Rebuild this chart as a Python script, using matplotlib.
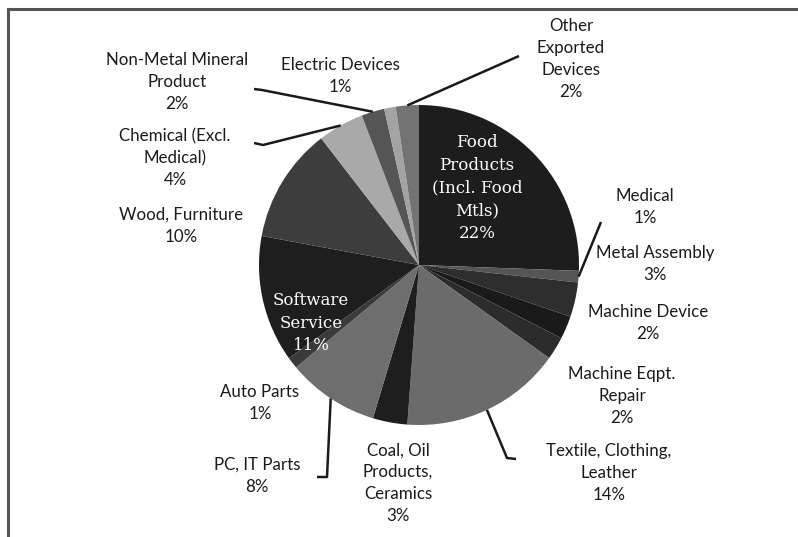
import matplotlib
matplotlib.use("Agg")
import matplotlib.pyplot as plt
import numpy as np

# shares by business type, clockwise from 12 o'clock
categories = [
    "Food Products (Incl. Food Mtls)", "Medical", "Metal Assembly",
    "Machine Device", "Machine Eqpt. Repair", "Textile, Clothing, Leather",
    "Coal, Oil Products, Ceramics", "PC, IT Parts", "Auto Parts",
    "Software Service", "Wood, Furniture", "Chemical (Excl. Medical)",
    "Non-Metal Mineral Product", "Electric Devices", "Other Exported Devices",
]
shares = [22, 1, 3, 2, 2, 14, 3, 8, 1, 11, 10, 4, 2, 1, 2]

# how each name is broken over lines in its label
label_names = [
    "Food\nProducts\n(Incl. Food\nMtls)", "Medical", "Metal Assembly",
    "Machine Device", "Machine Eqpt.\nRepair", "Textile, Clothing,\nLeather",
    "Coal, Oil\nProducts,\nCeramics", "PC, IT Parts", "Auto Parts",
    "Software\nService", "Wood, Furniture", "Chemical (Excl.\nMedical)",
    "Non-Metal Mineral\nProduct", "Electric Devices", "Other\nExported\nDevices",
]

colors = ["#1d1d1d", "#555555", "#2e2e2e", "#1a1a1a", "#2c2c2c", "#6b6b6b",
          "#1e1e1e", "#6e6e6e", "#3a3a3a", "#1e1e1e", "#3d3d3d", "#a9a9a9",
          "#555555", "#a3a3a3", "#737373"]

W, H = 798, 537
CX, CY, R = 419, 265, 160

# label centres in pixels measured from the top-left corner
label_xy = {
    0: (477, 188), 1: (645, 207), 2: (655, 264), 3: (648, 323), 4: (622, 396),
    5: (609, 473), 6: (398, 483), 7: (257, 476), 8: (260, 403), 9: (311, 323),
    10: (181, 226), 11: (175, 158), 12: (177, 82), 13: (340, 76), 14: (571, 59),
}
inside = {0, 9}

# leader lines: points from the slice edge out to the label
leaders = {
    14: [(519, 56)],
    12: [(262, 90), (254, 89)],
    11: [(263, 145), (254, 143)],
    1: [(601, 222)],
    5: [(507, 458), (516, 459)],
    7: [(327, 477), (317, 477)],
}


def flip(p):
    return p[0], H - p[1]


fig = plt.figure(figsize=(W / 100, H / 100), dpi=100)
ax = fig.add_axes([0, 0, 1, 1])
wedges, _ = ax.pie(shares, colors=colors, startangle=90, counterclock=False,
                   center=(CX, H - CY), radius=R, frame=True,
                   wedgeprops=dict(linewidth=0))
ax.set_xlim(0, W)
ax.set_ylim(0, H)
ax.set_aspect("equal")
ax.axis("off")

for i, w in enumerate(wedges):
    text = f"{label_names[i]}\n{shares[i]}%"
    x, y = flip(label_xy[i])
    if i in inside:
        ax.text(x, y, text, ha="center", va="center", color="white",
                family="DejaVu Serif", fontsize=12, linespacing=1.45)
    else:
        ax.text(x, y, text, ha="center", va="center", color="#1a1a1a",
                family="Lato", fontsize=12.2, linespacing=1.45)
    if i in leaders:
        mid = np.deg2rad((w.theta1 + w.theta2) / 2)
        pts = [(CX + R * np.cos(mid), H - CY + R * np.sin(mid))]
        pts += [flip(p) for p in leaders[i]]
        xs, ys = zip(*pts)
        ax.plot(xs, ys, color="#1a1a1a", lw=1.8, solid_capstyle="butt")

# frame lines along the top and left edges
ax.plot([8, 8], [0, H - 9], color="#555555", lw=2.2, clip_on=False)
ax.plot([8, W], [H - 9, H - 9], color="#555555", lw=2.2, clip_on=False)

fig.savefig("out.png", dpi=100)
